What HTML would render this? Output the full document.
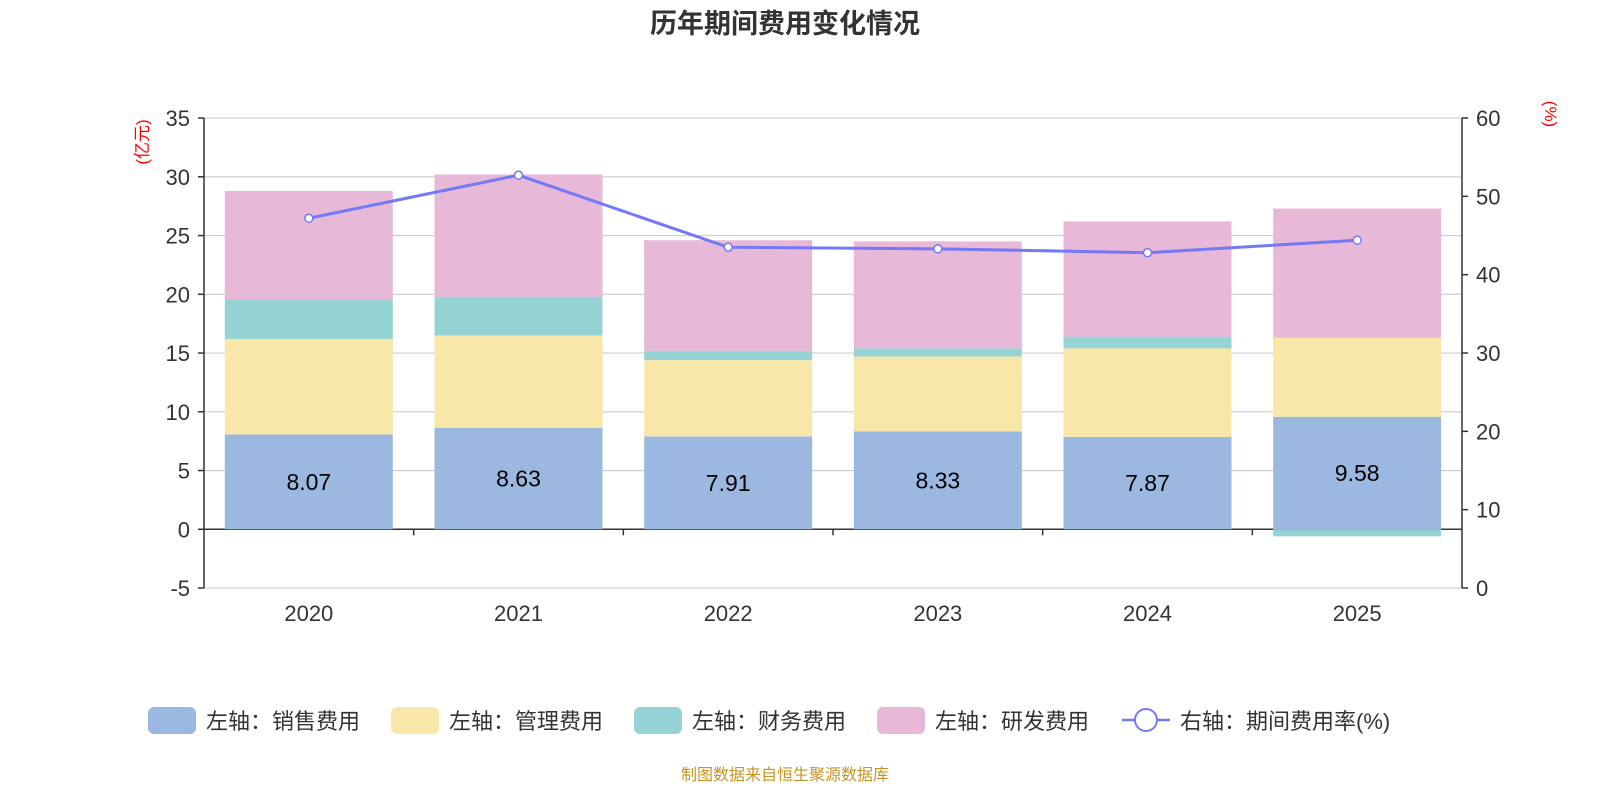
<!DOCTYPE html>
<html><head><meta charset="utf-8"><style>
body{margin:0;background:#fff;}
svg{display:block;font-family:"Liberation Sans","Noto Sans CJK SC",sans-serif;}
</style></head><body>
<svg id="c" width="1600" height="800" viewBox="0 0 1600 800">
<text x="785" y="33" text-anchor="middle" font-size="27" font-weight="bold" fill="#333">历年期间费用变化情况</text>
<text transform="translate(148,142) rotate(-90)" text-anchor="middle" font-size="17" fill="#f00">(亿元)</text>
<text transform="translate(1545,114) rotate(90)" text-anchor="middle" font-size="17" fill="#f00">(%)</text>
<g id="plot"></g>
<g id="legend" font-size="22" fill="#333"></g>
<text x="785" y="780" text-anchor="middle" font-size="16" fill="#c8941f">制图数据来自恒生聚源数据库</text>
</svg>
<script>
const categories=["2020","2021","2022","2023","2024","2025"];
const sales=[8.07,8.63,7.91,8.33,7.87,9.58];
const mgmt=[8.13,7.87,6.49,6.37,7.53,6.72];
const fin=[3.4,3.3,0.8,0.7,1.0,-0.6];
const rd=[9.2,10.4,9.4,9.1,9.8,11.0];
const rate=[47.2,52.7,43.5,43.3,42.8,44.4];
const leftTicks=[-5,0,5,10,15,20,25,30,35];
const rightTicks=[0,10,20,30,40,50,60];

const NS="http://www.w3.org/2000/svg";
const X0=204,X1=1462;
const yL=v=>529.3-v*11.75;
const yR=v=>588-v*(470/60);
const band=(X1-X0)/categories.length;
const xc=i=>X0+band*(i+0.5);
const plot=document.getElementById('plot');
function mk(tag,attrs,parent){const e=document.createElementNS(NS,tag);for(const k in attrs)e.setAttribute(k,attrs[k]);(parent||plot).appendChild(e);return e;}

leftTicks.forEach(t=>{
  const g=mk('line',{x1:X0,x2:X1,y1:yL(t),y2:yL(t),stroke:t===0?'#333':'#ccc','stroke-width':t===0?1.5:1.2});
  
  
  mk('line',{x1:X0-6,x2:X0,y1:yL(t),y2:yL(t),stroke:'#333','stroke-width':1.5});
  const tx=mk('text',{x:X0-14,y:yL(t)+8,'text-anchor':'end','font-size':22,fill:'#333'});
  tx.textContent=t;
  
  
});
rightTicks.forEach(t=>{
  mk('line',{x1:X1,x2:X1+6,y1:yR(t),y2:yR(t),stroke:'#333','stroke-width':1.5});
  const tx=mk('text',{x:X1+14,y:yR(t)+8,'font-size':22,fill:'#333'});
  tx.textContent=t;
  
  
});
mk('line',{x1:X0,x2:X0,y1:yL(35),y2:yL(-5),stroke:'#333','stroke-width':1.5});
mk('line',{x1:X1,x2:X1,y1:yR(60),y2:yR(0),stroke:'#333','stroke-width':1.5});
for(let i=1;i<categories.length;i++) mk('line',{x1:X0+band*i,x2:X0+band*i,y1:yL(0),y2:yL(0)+6,stroke:'#333','stroke-width':1.5});

const colors=['#9bb8e1','#f8e7a8','#96d3d4','#e8b8d9'];
const series=[sales,mgmt,fin,rd];
const names=['sales','mgmt','fin','rd'];
const bw=168;
categories.forEach((c,i)=>{
  let pos=0,neg=0;
  series.forEach((s,k)=>{
    const v=s[i];let a,b;
    if(v>=0){a=pos;b=pos+v;pos=b;}else{a=neg;b=neg+v;neg=b;}
    const r=mk('rect',{x:xc(i)-bw/2,y:Math.min(yL(a),yL(b)),width:bw,height:Math.abs(yL(a)-yL(b)),fill:colors[k]});
    
    
  });
  const lb=mk('text',{x:xc(i),y:yL(sales[i]/2)+8,'text-anchor':'middle','font-size':23,fill:'#000'});
  lb.textContent=sales[i].toFixed(2);
  
  
  const cl=mk('text',{x:xc(i),y:621,'text-anchor':'middle','font-size':22,fill:'#333'});
  cl.textContent=c;
  
  
});
const pl=mk('polyline',{points:rate.map((v,i)=>xc(i)+','+yR(v)).join(' '),fill:'none',stroke:'#7479f5','stroke-width':3});


rate.forEach((v,i)=>{
  const p=mk('circle',{cx:xc(i),cy:yR(v),r:4,fill:'#fff',stroke:'#7479f5','stroke-width':1.5});
  
  
});

const lg=document.getElementById('legend');
const items=[['左轴：销售费用',0,148],['左轴：管理费用',1,391],['左轴：财务费用',2,634],['左轴：研发费用',3,877]];
items.forEach(([t,k,x])=>{
  const g=mk('g',{},lg);
  
  
  mk('rect',{x:x,y:707,width:48,height:27,rx:6,fill:colors[k]},g);
  const tx=mk('text',{x:x+58,y:729},g);tx.textContent=t;
});
const g=mk('g',{},lg);


mk('line',{x1:1122,x2:1170,y1:720,y2:720,stroke:'#7479f5','stroke-width':2.5},g);
mk('circle',{cx:1146,cy:720,r:11,fill:'#fff',stroke:'#7479f5','stroke-width':2},g);
const tx=mk('text',{x:1180,y:729},g);tx.textContent='右轴：期间费用率(%)';
</script>
</body></html>
